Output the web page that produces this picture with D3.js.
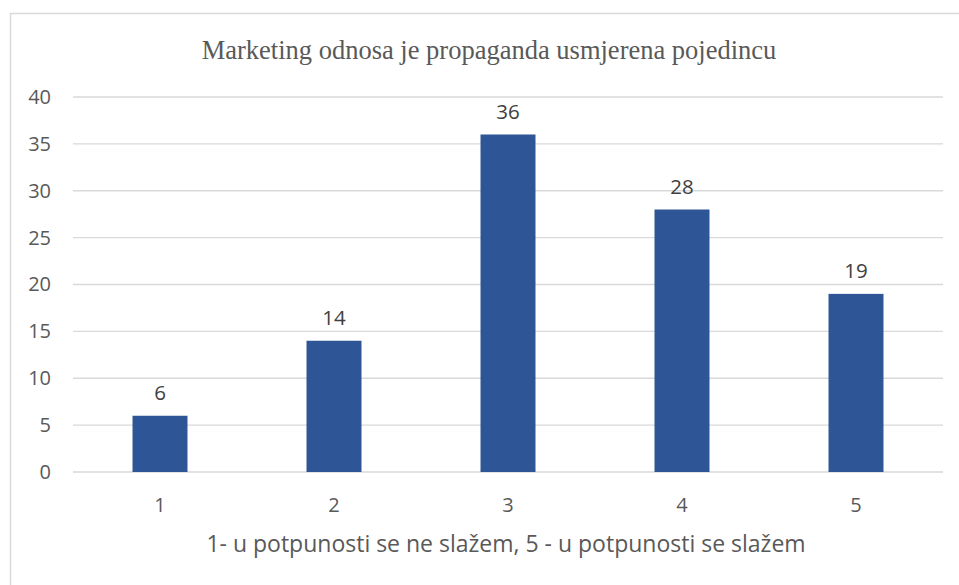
<!DOCTYPE html>
<html>
<head>
<meta charset="utf-8">
<script src="https://cdn.jsdelivr.net/npm/d3@7"></script>
<style>
  body { margin: 0; background: #fff; }
  svg { display: block; }
</style>
</head>
<body>
<svg id="chart" width="959" height="585"></svg>
<script>
// chart data
var categories = ['1', '2', '3', '4', '5'];
var counts = [6, 14, 36, 28, 19];
var yTicks = [0, 5, 10, 15, 20, 25, 30, 35, 40];
var chartTitle = 'Marketing odnosa je propaganda usmjerena pojedincu';
var xTitle = '1- u potpunosti se ne slažem, 5 - u potpunosti se slažem';

var svg = d3.select('#chart');
var W = 959, H = 585;
var plot = {left: 73, right: 943, top: 97, bottom: 472};
var sans = '"Open Sans", "Liberation Sans", sans-serif';

// outer chart border
svg.append('rect')
    .attr('x', 10.5).attr('y', 13.5)
    .attr('width', W).attr('height', H)
    .attr('fill', '#fff')
    .attr('stroke', '#d9d9d9')
    .attr('stroke-width', 1.5);

var x = d3.scaleBand()
    .domain(categories)
    .range([plot.left, plot.right])
    .paddingInner(0.684)
    .paddingOuter(0.342);

var y = d3.scaleLinear()
    .domain([0, 40])
    .range([plot.bottom, plot.top]);

// gridlines
svg.append('g')
    .selectAll('line')
    .data(yTicks)
    .join('line')
    .attr('x1', plot.left).attr('x2', plot.right)
    .attr('y1', function(d){ return y(d); })
    .attr('y2', function(d){ return y(d); })
    .attr('stroke', '#d9d9d9')
    .attr('stroke-width', 1.3);

// y axis labels
var yAxis = svg.append('g')
    .attr('transform', 'translate(' + (plot.left - 22) + ',0)')
    .call(d3.axisLeft(y).tickValues(yTicks).tickSize(0).tickPadding(0));
yAxis.select('.domain').remove();
yAxis.selectAll('text')
    .attr('fill', '#595959')
    .style('font-family', sans)
    .style('font-size', '20px');

// x axis labels
var xAxis = svg.append('g')
    .attr('transform', 'translate(0,' + (plot.bottom + 26) + ')')
    .call(d3.axisBottom(x).tickSize(0).tickPadding(0));
xAxis.select('.domain').remove();
xAxis.selectAll('text')
    .attr('fill', '#595959')
    .style('font-family', sans)
    .style('font-size', '20px');

// bars
svg.append('g')
    .selectAll('rect')
    .data(counts)
    .join('rect')
    .attr('x', function(d, i){ return x(categories[i]); })
    .attr('y', function(d){ return y(d); })
    .attr('width', x.bandwidth())
    .attr('height', function(d){ return y(0) - y(d); })
    .attr('fill', '#2e5595');

// data labels
svg.append('g')
    .selectAll('text')
    .data(counts)
    .join('text')
    .attr('x', function(d, i){ return x(categories[i]) + x.bandwidth() / 2; })
    .attr('y', function(d){ return y(d) - 16; })
    .attr('text-anchor', 'middle')
    .attr('fill', '#404040')
    .style('font-family', sans)
    .style('font-size', '20.5px')
    .text(function(d){ return d; });

// title
svg.append('text')
    .attr('x', (plot.left + plot.right) / 2 - 19)
    .attr('y', 59)
    .attr('text-anchor', 'middle')
    .attr('fill', '#595959')
    .style('font-family', '"Liberation Serif", "Times New Roman", serif')
    .style('font-size', '26.5px')
    .text(chartTitle);

// x axis title
svg.append('text')
    .attr('x', (plot.left + plot.right) / 2 - 2)
    .attr('y', 552)
    .attr('text-anchor', 'middle')
    .attr('fill', '#595959')
    .style('font-family', sans)
    .style('font-size', '23px')
    .text(xTitle);
</script>
</body>
</html>
